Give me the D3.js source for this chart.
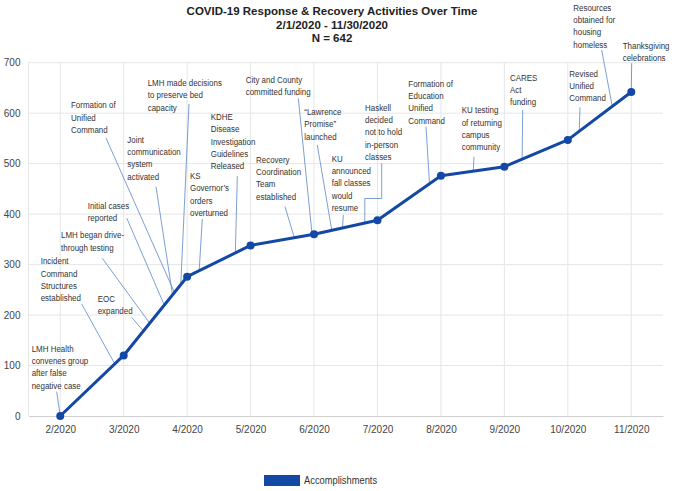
<!DOCTYPE html>
<html>
<head>
<meta charset="utf-8">
<script src="https://cdn.jsdelivr.net/npm/d3@7"></script>
<style>
  body { margin: 0; background: #fff; }
  svg text { font-family: "Liberation Sans", Arial, sans-serif; }
  .note { font-size: 9.7px; fill: #333; }
</style>
</head>
<body>
<script>
const titleLines = ['COVID-19 Response & Recovery Activities Over Time', '2/1/2020 - 11/30/2020', 'N = 642'];
const months = ['2/2020', '3/2020', '4/2020', '5/2020', '6/2020', '7/2020', '8/2020', '9/2020', '10/2020', '11/2020'];
const accomplishments = [0, 120, 276, 338, 360, 388, 476, 494, 547, 642];
const yTicks = [0, 100, 200, 300, 400, 500, 600, 700];
const seriesName = 'Accomplishments';

// what each note says
const noteTexts = [
	['LMH Health', 'convenes group', 'after false', 'negative case'],
	['Incident', 'Command', 'Structures', 'established'],
	['EOC', 'expanded'],
	['LMH began drive-', 'through testing'],
	['Initial  cases', 'reported'],
	['Joint', 'communication', 'system', 'activated'],
	['Formation of', 'Unified', 'Command'],
	['LMH made decisions', 'to preserve bed', 'capacity'],
	['KS', 'Governor\u2019s', 'orders', 'overturned'],
	['KDHE', 'Disease', 'Investigation', 'Guidelines', 'Released'],
	['Recovery', 'Coordination', 'Team', 'established'],
	['City and County', 'committed funding'],
	['\u201cLawrence', 'Promise\u201d', 'launched'],
	['KU', 'announced', 'fall classes', 'would', 'resume'],
	['Haskell', 'decided', 'not to hold', 'in-person', 'classes'],
	['Formation of', 'Education', 'Unified', 'Command'],
	['KU testing', 'of returning', 'campus', 'community'],
	['CARES', 'Act', 'funding'],
	['Revised', 'Unified', 'Command'],
	['Resources', 'obtained for', 'housing', 'homeless'],
	['Thanksgiving', 'celebrations']
];
// where on the timeline each note points (months after 2/2020)
const noteAt = [0, 0.86, 1.31, 1.41, 1.64, 1.77, 1.80, 1.90, 2.19, 2.76, 3.69, 3.97, 4.28, 4.45, 4.80, 5.82, 6.51, 7.28, 8.18, 8.70, 9];

// label placement in pixels: [text x, first line y, leader start x, leader start y, (elbow y)]
const noteLayout = [
	[31.7, 348.3, 56.7, 391.7],
	[40.7, 261, 81.7, 304],
	[97.7, 298.3, 131.7, 317.3],
	[61, 235, 102.3, 258.3],
	[87.7, 205.7, 126.7, 218],
	[127.3, 139.3, 156, 186.7],
	[71, 105, 106, 138],
	[147.7, 82.7, 189, 104],
	[190, 175.7, 202.3, 219],
	[210.7, 116.7, 237.3, 176],
	[256, 159.3, 285, 206.7],
	[245.7, 79.3, 298.3, 98.3],
	[304.3, 111.7, 317.3, 145],
	[331.7, 158.3, 343.3, 215],
	[365, 107.3, 381.7, 163.3, 198.5],
	[408.3, 83.3, 426, 126.7],
	[461.7, 110, 474, 156.7],
	[510, 77.3, 522.7, 110],
	[569.3, 73.3, 580, 107.3],
	[573.3, 7.3, 601.7, 50],
	[622.7, 45.7, 631.7, 63.3]
];

const width = 675;
const height = 491;
const plot = { left: 28.5, right: 663, top: 62.7, bottom: 416 };
const lineColor = '#1448a5';
const squeeze = 0.82; // the notes use a condensed face; no narrow font here, so squeeze Liberation Sans

const svg = d3.select('body').append('svg')
	.attr('width', width)
	.attr('height', height);

const x = d3.scalePoint()
	.domain(months)
	.range([plot.left, plot.right])
	.padding(0.5);

const y = d3.scaleLinear()
	.domain([0, 700])
	.range([plot.bottom, plot.top]);

// position of a fractional month along the series
function along(t) {
	const i = Math.min(Math.floor(t), accomplishments.length - 2);
	const f = t - i;
	const v = accomplishments[i] + f * (accomplishments[i + 1] - accomplishments[i]);
	return [x(months[0]) + t * x.step(), y(v)];
}

// title
svg.append('g').selectAll('text').data(titleLines).enter().append('text')
	.attr('x', 332)
	.attr('y', (d, i) => 14.8 + i * 13.8)
	.attr('text-anchor', 'middle')
	.style('font-size', '11.5px')
	.style('font-weight', 'bold')
	.style('fill', '#222')
	.text(d => d);

// GRID
const grid = svg.append('g');
grid.selectAll('.hg').data(yTicks.filter(d => d > 0)).enter().append('line')
	.attr('x1', plot.left).attr('x2', plot.right)
	.attr('y1', d => y(d)).attr('y2', d => y(d))
	.attr('stroke', '#e6e6e6');
grid.selectAll('.vg').data(months).enter().append('line')
	.attr('x1', d => x(d)).attr('x2', d => x(d))
	.attr('y1', plot.top).attr('y2', plot.bottom)
	.attr('stroke', '#e6e6e6');
grid.append('line')
	.attr('x1', plot.left).attr('x2', plot.left)
	.attr('y1', plot.top).attr('y2', plot.bottom)
	.attr('stroke', '#e6e6e6');

// AXES
const yAxis = d3.axisLeft(y).tickValues(yTicks).tickSize(0).tickPadding(8);
svg.append('g')
	.attr('transform', 'translate(' + plot.left + ' 0)')
	.call(yAxis)
	.call(g => g.select('.domain').remove())
	.selectAll('text')
	.style('font-size', '10px')
	.style('fill', '#444');

const xAxis = d3.axisBottom(x).tickSize(0).tickPadding(10);
svg.append('g')
	.attr('transform', 'translate(0 ' + plot.bottom + ')')
	.call(xAxis)
	.call(g => g.select('.domain').attr('stroke', '#cfcfcf'))
	.selectAll('text')
	.style('font-size', '10px')
	.style('fill', '#444');

// leader lines, under the series
const notes = svg.append('g');
noteTexts.forEach(function(lines, k) {
	const lay = noteLayout[k];
	const end = along(noteAt[k]);
	let pts = [[lay[2], lay[3]]];
	if (lay.length > 4) {
		pts.push([lay[2], lay[4]], [end[0], lay[4]]);
	}
	pts.push(end);
	notes.append('path')
		.attr('d', d3.line()(pts))
		.attr('fill', 'none')
		.attr('stroke', '#5a86c8')
		.attr('stroke-width', 0.8);

	notes.append('g')
		.attr('transform', 'translate(' + lay[0] + ' ' + (lay[1] + 3.4) + ') scale(' + squeeze + ' 1)')
		.selectAll('text').data(lines).enter().append('text')
		.attr('class', 'note')
		.attr('y', (d, i) => i * 12.3)
		.text(d => d);
});

// the series
const line = d3.line()
	.x((d, i) => x(months[i]))
	.y(d => y(d));

svg.append('path')
	.datum(accomplishments)
	.attr('d', line)
	.attr('fill', 'none')
	.attr('stroke', lineColor)
	.attr('stroke-width', 3)
	.attr('stroke-linejoin', 'round');

svg.append('g').selectAll('circle').data(accomplishments).enter().append('circle')
	.attr('cx', (d, i) => x(months[i]))
	.attr('cy', d => y(d))
	.attr('r', 4)
	.attr('fill', lineColor);

// legend
const legend = svg.append('g').attr('transform', 'translate(264 475)');
legend.append('rect')
	.attr('width', 36)
	.attr('height', 11)
	.attr('fill', lineColor);
legend.append('text')
	.attr('transform', 'translate(40 8.8) scale(' + squeeze + ' 1)')
	.style('font-size', '11.4px')
	.style('fill', '#333')
	.text(seriesName);
</script>
</body>
</html>
